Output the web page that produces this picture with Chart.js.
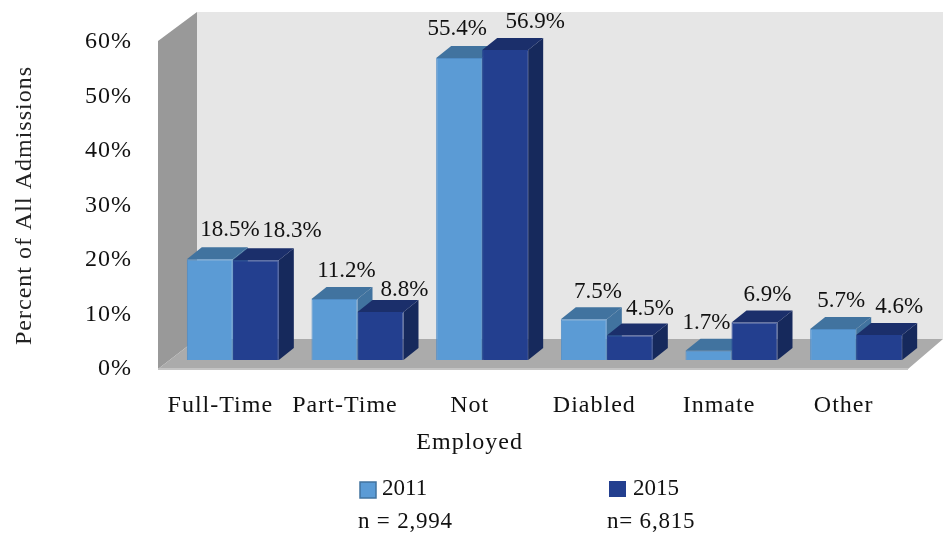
<!DOCTYPE html>
<html><head><meta charset="utf-8">
<style>html,body{margin:0;padding:0;background:#fff}#w{width:943px;height:535px}</style>
<script src="https://cdn.jsdelivr.net/npm/chart.js@4"></script>
</head><body><div id="w"><canvas id="c"></canvas></div>
<script>
const categories = ['Full-Time','Part-Time','Not|Employed','Diabled','Inmate','Other'];
const series2011 = [18.5,11.2,55.4,7.5,1.7,5.7];
const series2015 = [18.3,8.8,56.9,4.5,6.9,4.6];
const seriesNames = ['2011','2015'];
const sampleSizes = ['n = 2,994','n= 6,815'];
const yTicks = [0,10,20,30,40,50,60];
const labelNudge = [
  [[20,-23],[12,-22],[-2,-23],[14,-21],[-2,-22],[8,-22]],
  [[36,-23],[24,-16],[30,-22],[20,-20],[13,-21],[20,-22]]
];
const FONT = '"Liberation Serif", serif';
const SHIFT = 12.5, DX = 15, DY = 12;
const C = {light:'#5B9BD5',lightTop:'#41739F',lightEdge:'#4F8CC6',dark:'#233F8F',darkTop:'#1B2F6B',darkSide:'#16295C',
  wall:'#E6E6E6',side:'#999999',floor:'#ABABAB'};

function poly(ctx,pts,fill){ctx.beginPath();pts.forEach((p,i)=>i?ctx.lineTo(p[0],p[1]):ctx.moveTo(p[0],p[1]));ctx.closePath();ctx.fillStyle=fill;ctx.fill();}
const scene = {
  id:'scene',
  beforeDraw(chart){chart.ctx.letterSpacing='1px';},
  beforeLayout(chart){chart.ctx.letterSpacing='1px';},
  beforeDatasetsDraw(chart){
    const ctx=chart.ctx,a=chart.chartArea,L=a.left,R=a.right,B=a.bottom;
    const wx=39,wy=30,top=a.top-1,W=chart.width,FR=R+2;
    ctx.save();
    poly(ctx,[[L+wx,top-wy+1],[W,top-wy+1],[W,B-wy],[L+wx,B-wy]],C.wall);
    poly(ctx,[[L,top],[L+wx,top-wy+1],[L+wx,B-wy],[L,B]],C.side);
    poly(ctx,[[L,B],[L+wx,B-wy],[W,B-wy],[FR,B]],C.floor);
    ctx.fillStyle='#C4C4C4';ctx.fillRect(L,B-1,FR-L,2);
    ctx.restore();
    ctx.letterSpacing='0px';
    ctx.save();
    ctx.translate(SHIFT,0);
    [[0,C.lightTop,C.lightTop],[1,C.darkTop,C.darkSide]].forEach(([d,t,s])=>{
      chart.getDatasetMeta(d).data.forEach(b=>{
        const l=b.x-b.width/2,r=b.x+b.width/2,y=b.y,base=b.base;
        poly(ctx,[[r,y],[r+DX,y-DY],[r+DX,base-DY],[r,base]],s);
        poly(ctx,[[l,y],[l+DX,y-DY],[r+DX,y-DY],[r,y]],t);
      });
    });
  },
  afterDatasetsDraw(chart){
    const ctx=chart.ctx;
    ctx.restore();
    ctx.save();
    ctx.fillStyle='#111';
    ctx.font='23px '+FONT;
    ctx.textAlign='center';ctx.textBaseline='alphabetic';
    [series2011,series2015].forEach((vals,d)=>{
      chart.getDatasetMeta(d).data.forEach((b,i)=>{
        const n=labelNudge[d][i];
        ctx.fillText(vals[i].toFixed(1)+'%',b.x+SHIFT+n[0],b.y+n[1]);
      });
    });
    ctx.restore();
    ctx.save();
    ctx.font='23px '+FONT;ctx.textBaseline='alphabetic';ctx.textAlign='left';
    ctx.fillStyle=C.light;ctx.strokeStyle=C.lightTop;ctx.lineWidth=1.5;
    ctx.fillRect(360,482,16,16);ctx.strokeRect(360,482,16,16);
    ctx.fillStyle=C.dark;ctx.fillRect(609,481,17,16);
    ctx.fillStyle='#111';
    ctx.letterSpacing='0px';
    ctx.fillText(seriesNames[0],382,495);
    ctx.fillText(seriesNames[1],633,495);
    ctx.letterSpacing='0.8px';
    ctx.fillText(sampleSizes[0],358,528);
    ctx.fillText(sampleSizes[1],607,528);
    ctx.restore();
  }
};
new Chart(document.getElementById('c'),{
  type:'bar',
  data:{
    labels:categories.map(s=>s.includes('|')?s.split('|'):s),
    datasets:[
      {label:seriesNames[0],data:series2011,backgroundColor:C.light,borderColor:C.lightEdge,borderWidth:1,yAxisID:'y1',clip:false},
      {label:seriesNames[1],data:series2015,backgroundColor:C.dark,borderColor:C.dark,borderWidth:1,yAxisID:'y1',clip:false}
    ]
  },
  plugins:[scene],
  options:{
    responsive:true,maintainAspectRatio:false,animation:false,
    layout:{padding:{top:42,right:37,left:0,bottom:0}},
    datasets:{bar:{barPercentage:1,categoryPercentage:0.738}},
    plugins:{legend:{display:false},tooltip:{enabled:false},title:{display:false}},
    scales:{
      x:{
        afterFit(s){s.height=166;},
        grid:{display:false},border:{display:false},
        ticks:{color:'#111',font:{family:FONT,size:24,lineHeight:1.54},padding:10,maxRotation:0,autoSkip:false}
      },
      y:{
        min:0,max:60,
        afterFit(s){s.width=158;},
        grid:{display:false},border:{display:false},
        afterBuildTicks(s){s.ticks=yTicks.map(v=>({value:v}));},
        ticks:{color:'#111',font:{family:FONT,size:24},padding:18,callback:v=>v+'%'},
        title:{display:true,text:'Percent of All Admissions',color:'#222',font:{family:FONT,size:24},padding:{top:10,bottom:0}}
      },
      y1:{display:false,min:-1.65,max:58.35}
    }
  }
});
</script></body></html>
